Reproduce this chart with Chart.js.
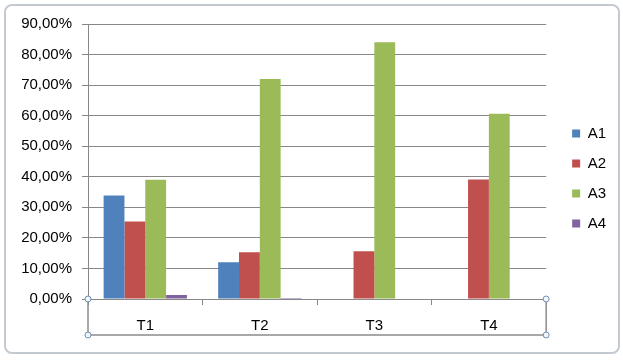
<!DOCTYPE html>
<html>
<head>
<meta charset="utf-8">
<script src="https://cdn.jsdelivr.net/npm/chart.js@4"></script>
<style>
  html, body { margin: 0; padding: 0; background: #ffffff; }
  body { width: 623px; height: 360px; position: relative; overflow: hidden; }
  #frame { position: absolute; left: 4px; top: 4px; width: 612px; height: 346px;
           border: 2px solid #c3c9d0; border-radius: 8px; background: #fff; }
  #wrap { position: absolute; left: 5px; top: 5px; width: 612px; height: 346px; }
</style>
</head>
<body>
<div id="frame"></div>
<div id="wrap"><canvas id="c" width="612" height="346"></canvas></div>
<script>
const categories = ['T1', 'T2', 'T3', 'T4'];
const seriesNames = ['A1', 'A2', 'A3', 'A4'];
const A1 = [33.9, 12.0, 0, 0];
const A2 = [25.4, 15.3, 15.6, 39.1];
const A3 = [39.0, 72.0, 84.0, 60.6];
const A4 = [1.3, 0.3, 0, 0];
const colors = ['#4F81BD', '#C0504D', '#9BBB59', '#8064A2'];
const yMax = 90, yStep = 10;

const FONT = { family: '"Liberation Sans", Arial, sans-serif', size: 15 };
const GRID = '#878787';

const boxPlugin = {
  id: 'axisBox',
  afterLayout(chart) {
    // move legend a little to the right of (and lower than) its default place
    const lg = chart.legend;
    if (lg) { lg.left += 11; lg.right += 11; lg.top += 2; lg.bottom += 2; }
  },
  afterDraw(chart) {
    const ctx = chart.ctx;
    const ca = chart.chartArea;
    const xs = chart.scales.x;
    const top = ca.bottom, bottom = xs.bottom;
    ctx.save();
    ctx.strokeStyle = '#8c8c8c';
    ctx.lineWidth = 1.5;
    ctx.beginPath();
    ctx.moveTo(ca.left, top); ctx.lineTo(ca.left, bottom);
    ctx.lineTo(ca.right, bottom); ctx.lineTo(ca.right, top);
    ctx.stroke();
    ctx.fillStyle = '#f2f6fb';
    ctx.strokeStyle = '#6e8fb5';
    ctx.lineWidth = 1;
    [[ca.left, top], [ca.left, bottom], [ca.right, top], [ca.right, bottom]].forEach(([x, y]) => {
      ctx.beginPath(); ctx.arc(x, y, 3, 0, Math.PI * 2); ctx.fill(); ctx.stroke();
    });
    ctx.restore();
  }
};

const data = [A1, A2, A3, A4];
new Chart(document.getElementById('c'), {
  type: 'bar',
  data: {
    labels: categories,
    datasets: seriesNames.map((n, i) => ({
      label: n, data: data[i], backgroundColor: colors[i], borderWidth: 0,
      categoryPercentage: 4 / 5.5, barPercentage: 1
    }))
  },
  options: {
    responsive: false,
    animation: false,
    devicePixelRatio: 1,
    layout: { padding: { left: 0, top: 13, right: 12, bottom: 16 } },
    plugins: {
      tooltip: { enabled: false },
      legend: {
        position: 'right',
        labels: { font: FONT, color: '#000', boxWidth: 8, boxHeight: 8, padding: 15 }
      }
    },
    scales: {
      x: {
        grid: { drawOnChartArea: false, drawTicks: true, tickLength: 6, color: GRID, offset: true },
        border: { color: GRID, width: 1 },
        ticks: { font: FONT, color: '#000', padding: 12 },
        afterFit(s) { s.height = 36; }
      },
      y: {
        min: 0, max: yMax,
        grid: { color: GRID, tickLength: 6, drawTicks: true },
        border: { color: GRID, width: 1 },
        ticks: {
          stepSize: yStep, font: FONT, color: '#000', padding: 10,
          callback: v => v.toFixed(2).replace('.', ',') + '%'
        },
        afterFit(s) { s.width = 83; }
      }
    }
  },
  plugins: [boxPlugin]
});
</script>
</body>
</html>
